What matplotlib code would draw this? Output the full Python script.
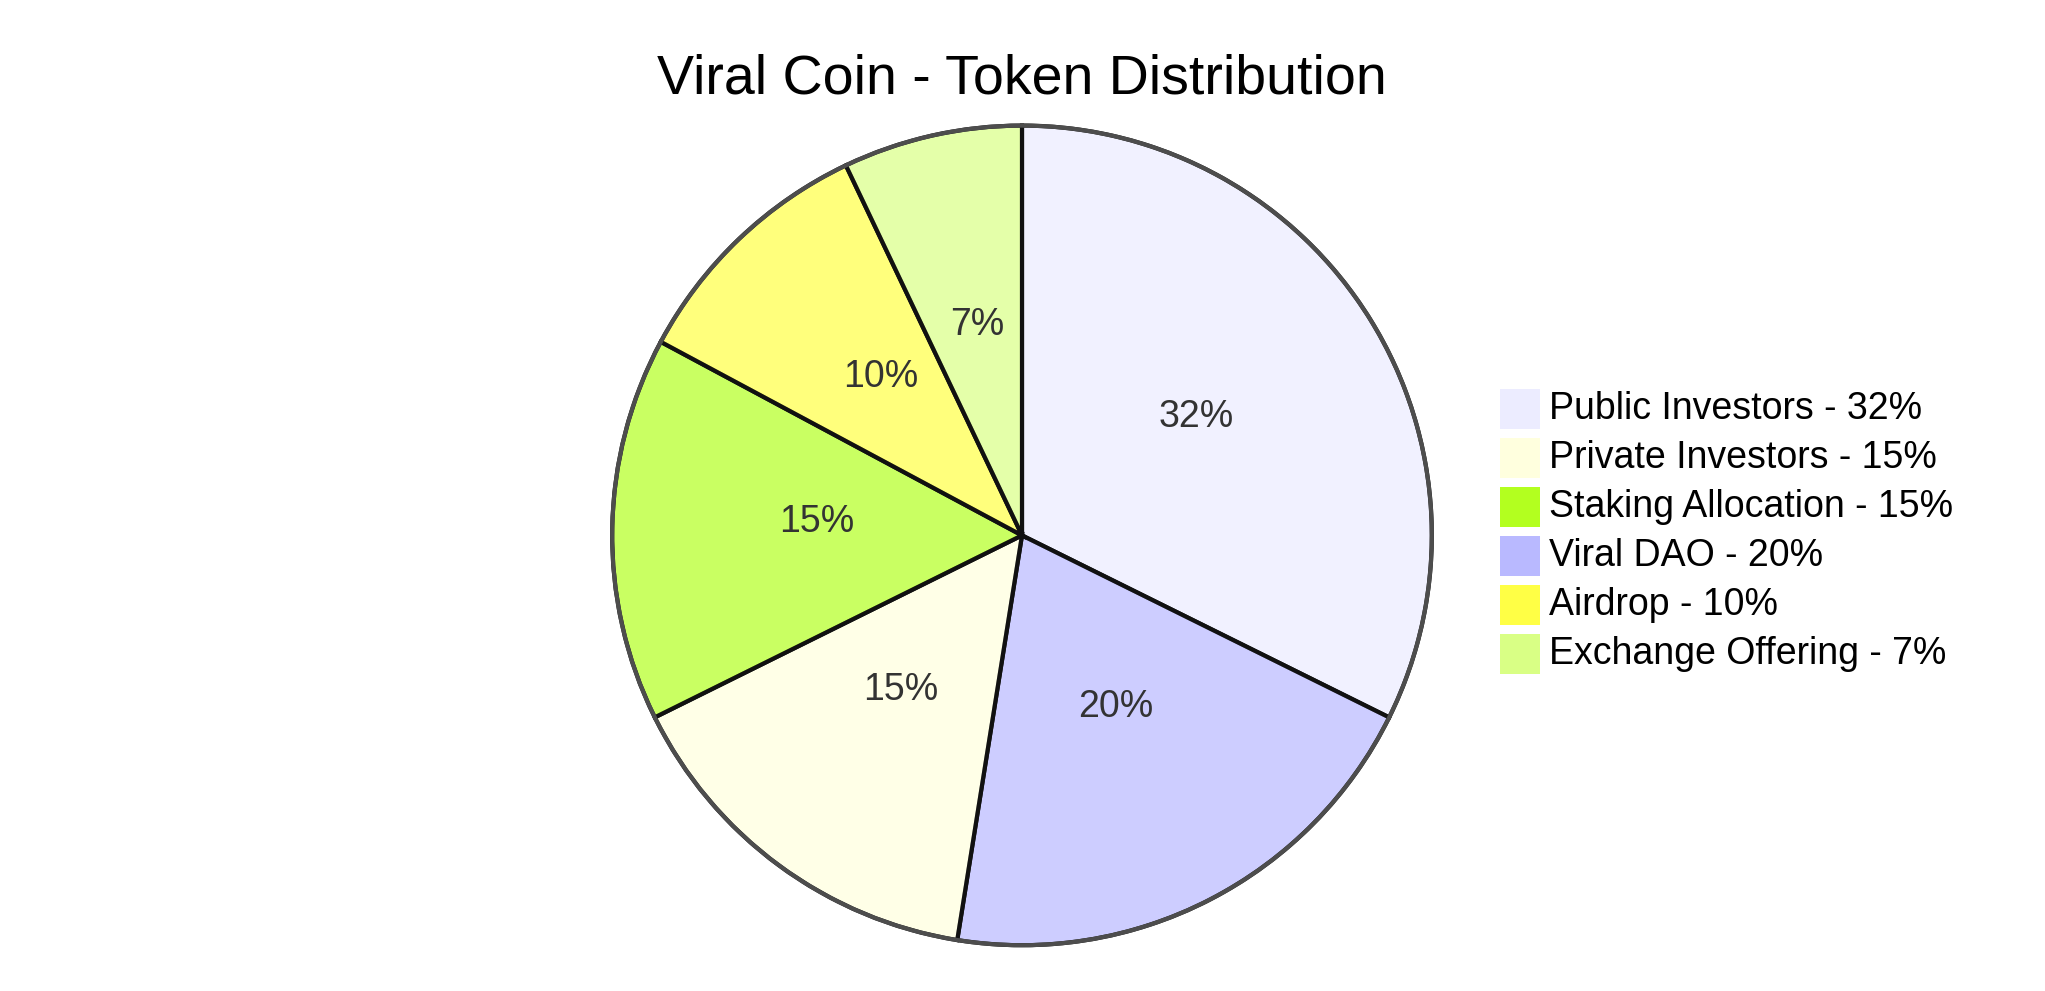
import matplotlib
matplotlib.use("Agg")
import matplotlib.pyplot as plt
from matplotlib.patches import Rectangle, Circle

title = "Viral Coin - Token Distribution"
categories = ["Public Investors", "Private Investors", "Staking Allocation",
              "Viral DAO", "Airdrop", "Exchange Offering"]
values = [32, 15, 15, 20, 10, 7]
colors = ["#ECECFF", "#FFFFDE", "#B3FF1F", "#B9B9FF", "#FFFF45", "#D9FF85"]

plt.rcParams['font.family'] = ['Liberation Sans', 'DejaVu Sans']

W, H = 2045, 991
fig = plt.figure(figsize=(W / 100, H / 100), dpi=100)

cx, cy, r = 1022, 991 - 535.4, 409
ax = fig.add_axes([(cx - r) / W, (cy - r) / H, 2 * r / W, 2 * r / H])

# mermaid sorts slices by value (stable), colours follow the category
order = sorted(range(len(values)), key=lambda i: -values[i])
vals = [values[i] for i in order]
cols = [colors[i] for i in order]
total = sum(values)

wedges, _, autotexts = ax.pie(
    vals, colors=cols, startangle=90, counterclock=False, radius=1,
    autopct=lambda p: f"{p:.0f}%", pctdistance=0.5,
    wedgeprops=dict(edgecolor='#111111', linewidth=3.0),
    textprops=dict(fontsize=27, color='#333333'))
for w in wedges:
    fc = w.get_facecolor()
    w.set_facecolor((fc[0], fc[1], fc[2], 0.7))
    w.set_edgecolor('#111111')
    w.set_clip_on(False)
for t in autotexts:
    x, y = t.get_position()
    t.set_position((x, y + 0.025))

ax.add_patch(Circle((0, 0), 1.0, fill=False, edgecolor='#4d4d4d', linewidth=3.0,
                    zorder=5, clip_on=False))
ax.set_xlim(-0.998, 0.998)
ax.set_ylim(-0.998, 0.998)
ax.set_aspect('equal')
ax.axis('off')

fig.text(1022 / W, 1 - 80 / H, title, ha='center', va='center', fontsize=40,
         color='black')

# legend
x0, y0, sz, step = 1500, 389, 40, 49
for k, (name, v, c) in enumerate(zip(categories, values, colors)):
    top = y0 + k * step
    fig.patches.append(Rectangle((x0 / W, 1 - (top + sz) / H), sz / W, sz / H,
                                 transform=fig.transFigure, facecolor=c, edgecolor='none'))
    fig.text(1549 / W, 1 - (top + sz / 2) / H, f"{name} - {round(v / total * 100)}%",
             ha='left', va='center', fontsize=27, color='black')

fig.savefig("out.png", dpi=100, facecolor='white')
